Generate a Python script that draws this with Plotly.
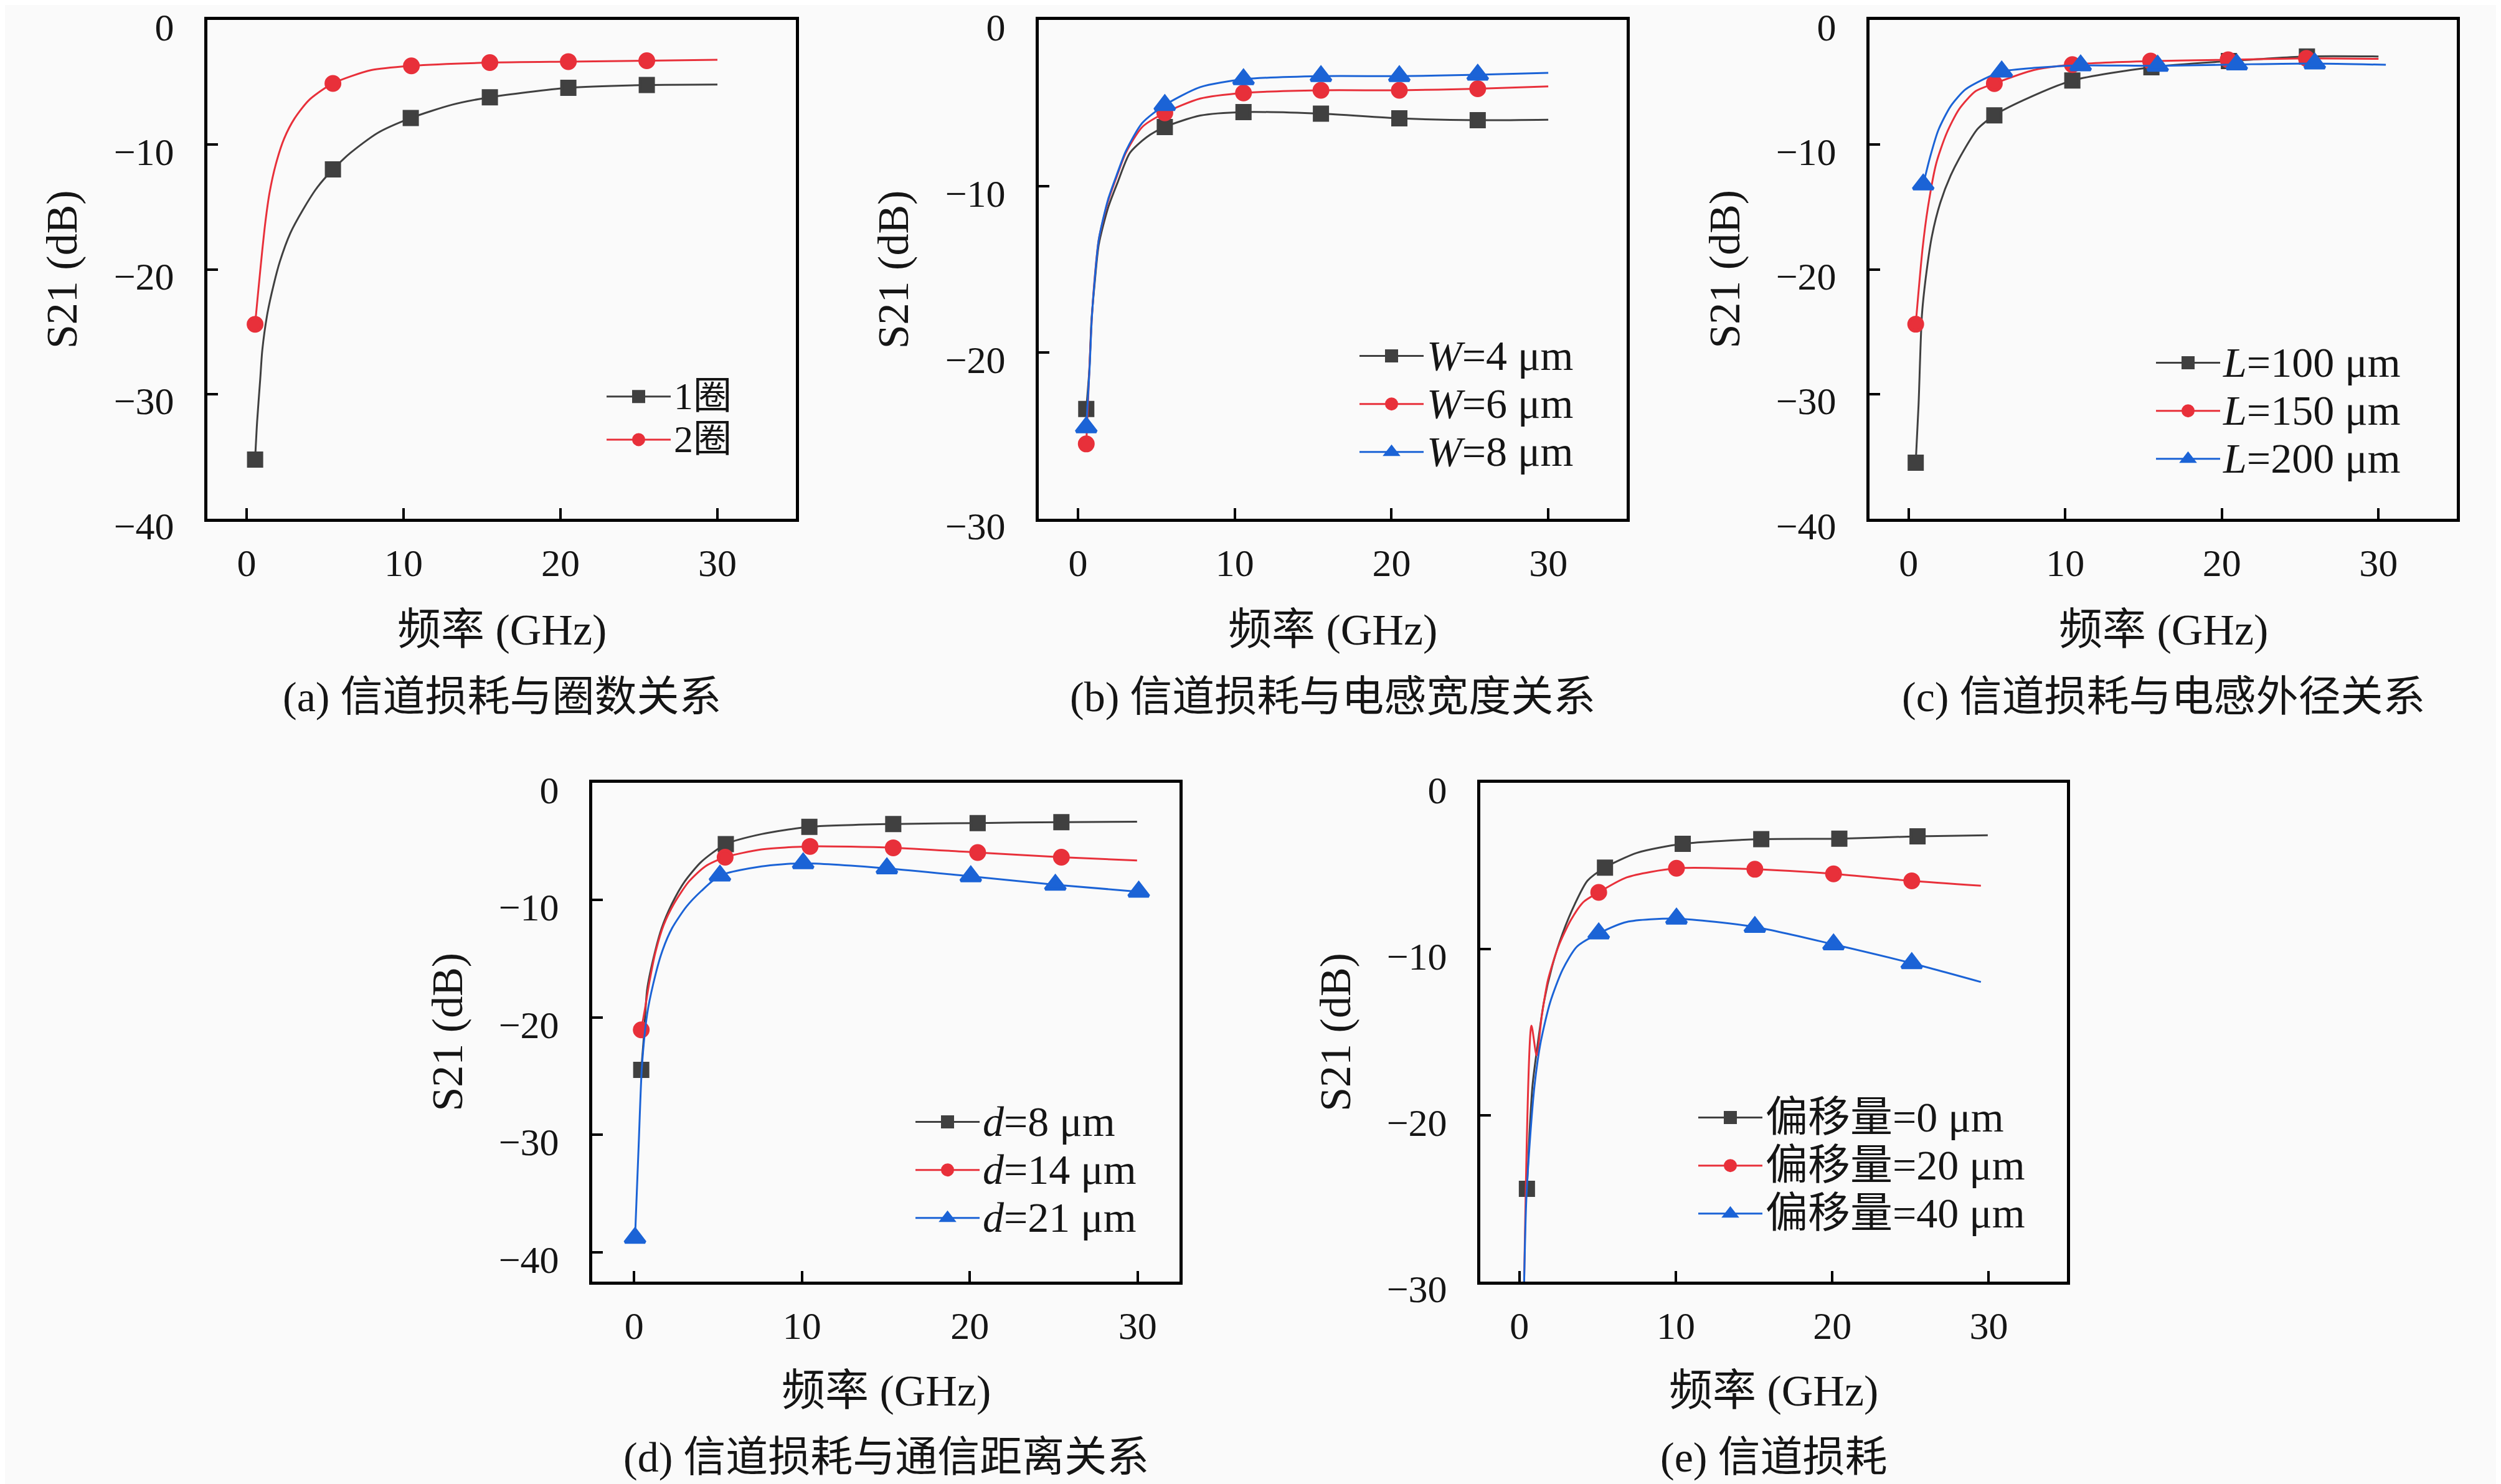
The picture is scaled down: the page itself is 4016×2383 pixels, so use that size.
import plotly.graph_objects as go

# ---- colours
GRAY = "#404040"
RED = "#e8303a"
BLUE = "#1b63d6"

# ---- (a) 信道损耗与圈数关系
A1_X = [0.54, 0.67, 0.87, 1.0, 1.33, 1.73, 2.12, 2.79, 3.58, 4.51, 5.5, 6.62, 8.35, 10.46, 13.1, 15.5, 20.5, 25.5, 30.0]
A1_Y = [-35.25, -32.2, -28.76, -26.47, -23.5, -21.2, -19.37, -17.08, -15.24, -13.41, -11.99, -10.66, -9.06, -7.87, -6.8, -6.2, -5.44, -5.22, -5.18]
A1_MX = [0.54, 5.5, 10.46, 15.5, 20.5, 25.5]
A1_MY = [-35.25, -11.99, -7.87, -6.2, -5.44, -5.22]
A2_X = [0.54, 0.73, 1.0, 1.2, 1.46, 1.86, 2.39, 3.05, 3.98, 5.5, 7.95, 10.5, 15.5, 20.5, 25.5, 30.0]
A2_Y = [-24.41, -21.89, -18.45, -16.16, -13.87, -11.58, -9.52, -7.91, -6.42, -5.09, -4.02, -3.68, -3.42, -3.34, -3.27, -3.19]
A2_MX = [0.54, 5.5, 10.5, 15.5, 20.5, 25.5]
A2_MY = [-24.41, -5.09, -3.68, -3.42, -3.34, -3.27]

# ---- (b) 信道损耗与电感宽度关系
B1_X = [0.53, 0.73, 0.86, 1.06, 1.33, 1.92, 2.52, 3.31, 4.37, 5.54, 7.8, 10.56, 15.5, 20.5, 25.5, 30.0]
B1_Y = [-23.4, -21.0, -18.1, -15.9, -13.5, -11.3, -9.8, -8.0, -7.06, -6.44, -5.75, -5.54, -5.64, -5.92, -6.03, -6.0]
B1_MX = [0.53, 5.54, 10.56, 15.5, 20.5, 25.5]
B1_MY = [-23.4, -6.44, -5.54, -5.64, -5.92, -6.03]
B2_X = [0.53, 0.75, 0.88, 1.06, 1.33, 1.92, 2.52, 3.05, 4.1, 5.54, 7.8, 10.56, 15.5, 20.5, 25.5, 30.0]
B2_Y = [-25.5, -20.5, -18.0, -15.6, -13.2, -10.9, -9.3, -8.0, -6.44, -5.59, -4.73, -4.39, -4.23, -4.23, -4.14, -4.0]
B2_MX = [0.53, 5.54, 10.56, 15.5, 20.5, 25.5]
B2_MY = [-25.5, -5.59, -4.39, -4.23, -4.23, -4.14]
B3_X = [0.53, 0.75, 0.88, 1.06, 1.33, 1.92, 2.52, 3.05, 4.1, 5.54, 7.8, 10.56, 15.5, 20.5, 25.5, 30.0]
B3_Y = [-24.5, -20.8, -18.0, -15.7, -13.2, -10.8, -9.2, -7.9, -6.2, -5.12, -4.04, -3.57, -3.38, -3.38, -3.3, -3.18]
B3_MX = [0.53, 5.54, 10.56, 15.5, 20.5, 25.5]
B3_MY = [-24.5, -5.12, -3.57, -3.38, -3.38, -3.3]

# ---- (c) 信道损耗与电感外径关系
C1_X = [0.45, 0.63, 0.85, 1.16, 1.49, 2.02, 2.68, 3.48, 4.41, 5.47, 7.33, 10.45, 15.5, 20.45, 25.43, 30.0]
C1_Y = [-35.5, -30.9, -23.6, -20.0, -17.3, -14.66, -12.48, -10.55, -8.73, -7.65, -6.44, -4.86, -3.79, -3.3, -2.93, -2.93]
C1_MX = [0.45, 5.47, 10.45, 15.5, 20.45, 25.43]
C1_MY = [-35.5, -7.65, -4.86, -3.79, -3.3, -2.93]
C2_X = [0.45, 0.89, 1.22, 1.76, 2.42, 3.22, 4.28, 5.47, 7.99, 10.45, 15.45, 20.4, 25.4, 30.0]
C2_Y = [-24.4, -18.3, -15.1, -11.5, -9.1, -7.16, -5.71, -5.1, -4.02, -3.58, -3.3, -3.19, -3.08, -3.12]
C2_MX = [0.45, 5.47, 10.45, 15.45, 20.4, 25.4]
C2_MY = [-24.4, -5.1, -3.58, -3.3, -3.19, -3.08]
C3_X = [0.93, 1.36, 1.89, 2.68, 3.61, 4.81, 5.94, 7.99, 10.98, 15.9, 20.95, 25.93, 30.47]
C3_Y = [-13.2, -11.03, -8.85, -6.92, -5.59, -4.74, -4.14, -3.85, -3.65, -3.68, -3.57, -3.49, -3.6]
C3_MX = [0.93, 5.94, 10.98, 15.9, 20.95, 25.93]
C3_MY = [-13.2, -4.14, -3.65, -3.68, -3.57, -3.49]

# ---- (d) 信道损耗与通信距离关系
D1_X = [0.42, 0.58, 0.77, 1.14, 1.64, 2.26, 3.0, 4.0, 5.46, 7.59, 10.44, 15.44, 20.47, 25.46, 29.97]
D1_Y = [-24.46, -21.57, -17.63, -15.0, -12.38, -10.28, -8.43, -6.73, -5.23, -4.37, -3.76, -3.51, -3.43, -3.35, -3.31]
D1_MX = [0.42, 5.46, 10.44, 15.44, 20.47, 25.46]
D1_MY = [-24.46, -5.23, -3.76, -3.51, -3.43, -3.35]
D2_X = [0.42, 0.65, 0.89, 1.26, 1.76, 2.38, 3.25, 4.24, 5.42, 7.59, 10.48, 15.44, 20.47, 25.46, 29.97]
D2_Y = [-21.05, -19.2, -17.1, -14.48, -12.11, -10.28, -8.43, -7.12, -6.34, -5.68, -5.42, -5.54, -5.94, -6.34, -6.62]
D2_MX = [0.42, 5.42, 10.48, 15.44, 20.47, 25.46]
D2_MY = [-21.05, -6.34, -5.42, -5.54, -5.94, -6.34]
D3_X = [0.05, 0.27, 0.46, 0.77, 1.14, 1.64, 2.26, 3.12, 4.0, 5.11, 7.59, 10.07, 15.06, 20.06, 25.1, 30.07]
D3_Y = [-38.77, -30.77, -24.2, -19.73, -17.1, -14.48, -12.38, -10.54, -9.22, -7.91, -7.12, -6.86, -7.29, -7.97, -8.69, -9.28]
D3_MX = [0.05, 5.11, 10.07, 15.06, 20.06, 25.1, 30.07]
D3_MY = [-38.77, -7.91, -6.86, -7.29, -7.97, -8.69, -9.28]

# ---- (e) 信道损耗
E1_X = [0.48, 0.64, 0.84, 1.1, 1.56, 2.09, 2.76, 3.55, 4.35, 5.47, 7.53, 10.44, 15.46, 20.45, 25.45, 29.94]
E1_Y = [-24.42, -21.15, -18.18, -16.2, -13.22, -11.04, -9.06, -7.28, -5.89, -5.1, -4.21, -3.67, -3.39, -3.36, -3.22, -3.16]
E1_MX = [0.48, 5.47, 10.44, 15.46, 20.45, 25.45]
E1_MY = [-24.42, -5.1, -3.67, -3.39, -3.36, -3.22]
E2_X = [0.3, 0.77, 1.1, 1.43, 1.83, 2.49, 3.28, 4.08, 5.07, 6.86, 10.04, 15.05, 20.08, 25.08, 29.5]
E2_Y = [-30.1, -14.61, -16.4, -14.02, -11.84, -9.85, -8.27, -7.18, -6.59, -5.69, -5.14, -5.2, -5.48, -5.9, -6.19]
E2_MX = [5.07, 10.04, 15.05, 20.08, 25.08]
E2_MY = [-6.59, -5.14, -5.2, -5.48, -5.9]
E3_X = [0.3, 0.44, 0.7, 0.97, 1.36, 1.96, 2.76, 3.68, 5.07, 6.86, 10.04, 15.05, 20.08, 25.08, 29.5]
E3_Y = [-30.1, -25.1, -21.15, -18.18, -15.6, -13.22, -11.24, -9.85, -9.06, -8.37, -8.17, -8.67, -9.72, -10.85, -11.98]
E3_MX = [5.07, 10.04, 15.05, 20.08, 25.08]
E3_MY = [-9.06, -8.17, -8.67, -9.72, -10.85]

# ---- labels
CAPTIONS = ["(a) 信道损耗与圈数关系", "(b) 信道损耗与电感宽度关系", "(c) 信道损耗与电感外径关系",
            "(d) 信道损耗与通信距离关系", "(e) 信道损耗"]
NAMES_A = ["1圈", "2圈"]
NAMES_B = ["<i>W</i>=4 μm", "<i>W</i>=6 μm", "<i>W</i>=8 μm"]
NAMES_C = ["<i>L</i>=100 μm", "<i>L</i>=150 μm", "<i>L</i>=200 μm"]
NAMES_D = ["<i>d</i>=8 μm", "<i>d</i>=14 μm", "<i>d</i>=21 μm"]
NAMES_E = ["偏移量=0 μm", "偏移量=20 μm", "偏移量=40 μm"]
Y_RANGES = [[-40, 0], [-30, 0], [-40, 0], [-42.5, 0], [-30, 0]]
X_RANGES = [[-2.5, 35], [-2.5, 35], [-2.5, 35], [-2.5, 32.5], [-2.5, 35]]

W, H = 4016, 2383
FONT = "Liberation Serif, Noto Sans CJK SC, serif"
INK = "#151515"

# plot boxes in figure pixels (left, right, top, bottom)
BOXES = [(325, 1270, 24, 825), (1660, 2604, 24, 825), (2994, 3937, 24, 825),
         (943, 1886, 1249, 2050), (2369, 3311, 1249, 2050)]
# legend (left px, top px, row font size, text font size)
LEGENDS = [(961, 589, 51, 62), (2170, 520, 57, 68), (3449, 531, 57, 68),
           (1457, 1750, 57, 68), (2714, 1743, 57, 68)]
# offsets of x title / caption below each box (domain fractions)
BELOW = [(-0.223, -0.357)] * 3 + [(-0.219, -0.352)] * 2

STYLE = [(GRAY, "square", 21), (RED, "circle", 22), (BLUE, "triangle-up", 28)]

panels = [
    ([(A1_X, A1_Y, A1_MX, A1_MY), (A2_X, A2_Y, A2_MX, A2_MY)], NAMES_A),
    ([(B1_X, B1_Y, B1_MX, B1_MY), (B2_X, B2_Y, B2_MX, B2_MY), (B3_X, B3_Y, B3_MX, B3_MY)], NAMES_B),
    ([(C1_X, C1_Y, C1_MX, C1_MY), (C2_X, C2_Y, C2_MX, C2_MY), (C3_X, C3_Y, C3_MX, C3_MY)], NAMES_C),
    ([(D1_X, D1_Y, D1_MX, D1_MY), (D2_X, D2_Y, D2_MX, D2_MY), (D3_X, D3_Y, D3_MX, D3_MY)], NAMES_D),
    ([(E1_X, E1_Y, E1_MX, E1_MY), (E2_X, E2_Y, E2_MX, E2_MY), (E3_X, E3_Y, E3_MX, E3_MY)], NAMES_E),
]

fig = go.Figure()
layout = {}
annotations = []

for i, (series, names) in enumerate(panels):
    n = i + 1
    sfx = "" if n == 1 else str(n)
    leg = "legend" + sfx
    lx, ly, lsize, tsize = LEGENDS[i]
    for k, (x, y, mx, my) in enumerate(series):
        color, symbol, size = STYLE[k]
        mk = dict(color=color, symbol=symbol, size=size, line=dict(color=color, width=5))
        # smooth curve
        fig.add_trace(go.Scatter(x=x, y=y, mode="lines", xaxis="x" + sfx, yaxis="y" + sfx,
                                 line=dict(color=color, width=3, shape="spline", smoothing=0.7),
                                 showlegend=False, hoverinfo="skip"))
        # sampled markers
        fig.add_trace(go.Scatter(x=mx, y=my, mode="markers", xaxis="x" + sfx, yaxis="y" + sfx,
                                 marker=mk, showlegend=False))
        # legend entry
        label = "<span style='font-size:%dpx'>%s</span>" % (tsize, names[k])
        fig.add_trace(go.Scatter(x=[None], y=[None], mode="lines+markers", name=label,
                                 xaxis="x" + sfx, yaxis="y" + sfx, legend=leg,
                                 line=dict(color=color, width=3), marker=mk))

    l, r, t, b = BOXES[i]
    axis_common = dict(showline=True, linecolor="black", linewidth=5, mirror=True,
                       ticks="inside", ticklen=17, tickwidth=4, tickcolor="black",
                       showgrid=False, zeroline=False, automargin=False,
                       ticklabeloverflow="allow",
                       tickfont=dict(family=FONT, size=62, color=INK))
    layout["xaxis" + sfx] = dict(axis_common, domain=[l / W, r / W], anchor="y" + sfx,
                                 range=X_RANGES[i], tickvals=[0, 10, 20, 30], ticklabelstandoff=13)
    layout["yaxis" + sfx] = dict(axis_common, domain=[1 - b / H, 1 - t / H], anchor="x" + sfx,
                                 range=Y_RANGES[i], dtick=10, ticklabelstandoff=36,
                                 ticklabelshift=11)
    layout[leg] = dict(x=lx / W, y=1 - ly / H, xanchor="left", yanchor="top",
                       bgcolor="rgba(0,0,0,0)", itemwidth=103, tracegroupgap=0,
                       font=dict(family=FONT, size=lsize, color=INK))

    xd = "x" + sfx + " domain"
    yd = "y" + sfx + " domain"
    yt, yc = BELOW[i]
    annotations += [
        dict(text="频率 (GHz)", x=0.5, y=yt, xref=xd, yref=yd, showarrow=False,
             xanchor="center", yanchor="middle", font=dict(family=FONT, size=70, color=INK)),
        dict(text=CAPTIONS[i], x=0.5, y=yc, xref=xd, yref=yd, showarrow=False,
             xanchor="center", yanchor="middle", font=dict(family=FONT, size=68, color=INK)),
        dict(text="S21 (dB)", x=-0.247, y=0.5, xref=xd, yref=yd, showarrow=False, textangle=-90,
             xanchor="center", yanchor="middle", font=dict(family=FONT, size=70, color=INK)),
    ]

fig.update_layout(**layout)
fig.update_layout(width=W, height=H, margin=dict(l=0, r=0, t=0, b=0, autoexpand=False),
                  paper_bgcolor="#fafafa", plot_bgcolor="#fafafa",
                  annotations=annotations, font=dict(family=FONT))

fig.write_html("out.html")
